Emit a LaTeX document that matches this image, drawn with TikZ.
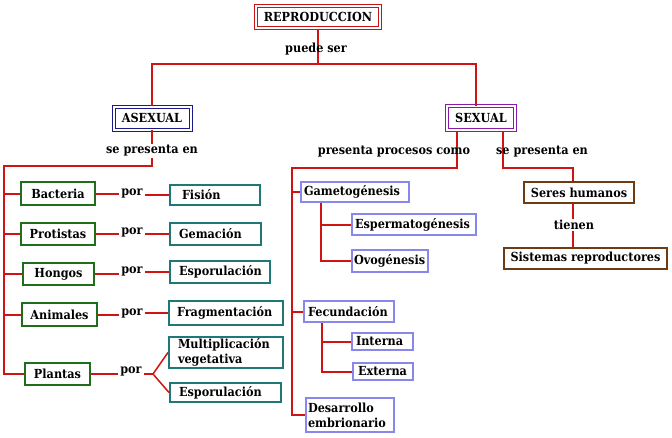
\documentclass[tikz,border=0pt]{standalone}
\usepackage{fontspec}
\setmainfont{DejaVu Serif}[FakeStretch=0.9]
\definecolor{lnred}{RGB}{208,20,20}
\definecolor{repred}{RGB}{200,20,20}
\definecolor{navy}{RGB}{26,26,140}
\definecolor{purp}{RGB}{138,26,170}
\definecolor{grn}{RGB}{30,110,30}
\definecolor{teal}{RGB}{30,120,120}
\definecolor{lav}{RGB}{136,136,236}
\definecolor{brn}{RGB}{110,60,16}
\begin{document}
\begin{tikzpicture}[x=1pt,y=-1pt,
  font=\fontsize{12.5}{15}\selectfont\bfseries,
  link/.style={draw=lnred, line width=2pt},
  dbox/.style={draw=#1, double, double distance=2pt, line width=1pt, inner sep=2pt},
  sbox/.style={draw=#1, line width=2pt, inner ysep=1pt, align=left},
  gbox/.style={sbox=grn, anchor=center},
  tbox/.style={sbox=teal, anchor=west},
  lbox/.style={sbox=lav, anchor=west},
  bbox/.style={sbox=brn, anchor=center},
  lbl/.style={inner sep=1pt},
  wlbl/.style={inner sep=1pt, fill=white},
  pornode/.style={inner xsep=2pt, inner ysep=1pt}]
\useasboundingbox (0,0) rectangle (672,437);

% top level
\node[dbox=repred, minimum width=124pt, minimum height=22pt] (rep) at (318,17) {REPRODUCCION};
\node[dbox=navy, minimum width=77pt, minimum height=23pt] (asex) at (152,118) {ASEXUAL};
\node[dbox=purp, minimum width=68pt, minimum height=24pt] (sex) at (481,118) {SEXUAL};
\coordinate (jtop) at (318,64);
\draw[link] (rep.south) -- (jtop);
\draw[link] (asex.north) |- (jtop) -| ([xshift=-5pt]sex.north);
\node[lbl] (puede) at (316,49) {puede ser};

% asexual branch
\coordinate (ja) at (152,166);
\coordinate (jl) at (4,166);
\node[gbox, minimum width=74pt, minimum height=23pt] (bac) at (58,193.5) {Bacteria};
\node[gbox, minimum width=74pt, minimum height=22pt] (pro) at (58,234) {Protistas};
\node[gbox, minimum width=71pt, minimum height=22pt] (hon) at (58.5,274) {Hongos};
\node[gbox, minimum width=75pt, minimum height=23pt] (ani) at (59.5,314.5) {Animales};
\node[gbox, minimum width=65pt, minimum height=22pt] (pla) at (57.5,374) {Plantas};
\draw[link] (asex.south) -- (ja) -- (jl) |- (pla.west);
\node[wlbl] (sepa) at (152,151) {se presenta en};
\draw[link] (jl |- bac.west) -- (bac.west);
\draw[link] (jl |- pro.west) -- (pro.west);
\draw[link] (jl |- hon.west) -- (hon.west);
\draw[link] (jl |- ani.west) -- (ani.west);

\node[tbox, inner xsep=12pt, text width=66pt, minimum height=20pt] (fis) at (169,194.5) {Fisión};
\node[tbox, inner xsep=9pt, text width=73pt, minimum height=22pt] (gem) at (169,234) {Gemación};
\node[tbox, inner xsep=9pt, text width=82pt, minimum height=22pt] (esp1) at (169,272) {Esporulación};
\node[tbox, inner xsep=8pt, text width=98pt, minimum height=24pt] (fra) at (168,313) {Fragmentación};
\node[tbox, inner xsep=9pt, text width=96pt, minimum height=31pt, inner ysep=0pt] (mul) at (168,352.5) {Multiplicación\\vegetativa};
\node[tbox, inner xsep=9pt, text width=93pt, minimum height=19pt] (esp2) at (169,392.5) {Esporulación};

\node[pornode] (bpor) at (132,193.5) {por};
\node[pornode] (ppor) at (132,232) {por};
\node[pornode] (hpor) at (132,271) {por};
\node[pornode] (apor) at (132,313) {por};
\node[pornode] (lpor) at (131,371) {por};
\draw[link] (bac.east) -- (bac.east -| bpor.west);
\draw[link] (bpor.east |- fis.west) -- (fis.west);
\draw[link] (pro.east) -- (pro.east -| ppor.west);
\draw[link] (ppor.east |- gem.west) -- (gem.west);
\draw[link] (hon.east) -- (hon.east -| hpor.west);
\draw[link] (hpor.east |- esp1.west) -- (esp1.west);
\draw[link] (ani.east) -- (ani.east -| apor.west);
\draw[link] (apor.east |- fra.west) -- (fra.west);
\draw[link] (pla.east) -- (pla.east -| lpor.west);
\coordinate (pj) at (153,374);
\draw[link] (lpor.east |- pj) -- (pj);
\draw[draw=lnred, line width=1.5pt] (mul.west) -- (pj) -- (esp2.west);

% sexual branch
\coordinate (sl) at (457,168);
\coordinate (sr) at (503,168);
\coordinate (gl) at (292,168);
\node[lbox, inner xsep=3pt, text width=102pt, minimum height=20pt] (gam) at (300,192) {Gametogénesis};
\node[lbox, inner xsep=3pt, text width=118pt, minimum height=21pt] (spe) at (351,224.5) {Espermatogénesis};
\node[lbox, inner xsep=2pt, text width=72pt, minimum height=22pt] (ovo) at (351,261) {Ovogénesis};
\node[lbox, inner xsep=4pt, text width=82pt, minimum height=21pt] (fec) at (303,311.5) {Fecundación};
\node[lbox, inner xsep=4pt, text width=53pt, minimum height=17pt] (int) at (351,341.5) {Interna};
\node[lbox, inner xsep=5pt, text width=50pt, minimum height=17pt] (ext) at (352,371.5) {Externa};
\node[lbox, inner xsep=2pt, text width=84pt, minimum height=34pt, inner ysep=0pt] (des) at (305,415) {Desarrollo\\embrionario};
\draw[link] (sex.south -| sl) -- (sl) -- (gl) |- (des.west);
\draw[link] (gl |- gam.west) -- (gam.west);
\draw[link] (gl |- fec.west) -- (fec.west);
\coordinate (gj) at (321,203);
\draw[link] (gj) |- (ovo.west);
\draw[link] (gj |- spe.west) -- (spe.west);
\coordinate (fj) at (322,323);
\draw[link] (fj) |- (ext.west);
\draw[link] (fj |- int.west) -- (int.west);
\node[lbl] (ppc) at (394,152) {presenta procesos como};

\node[bbox, minimum width=110pt, minimum height=21pt] (ser) at (579,192.5) {Seres humanos};
\node[bbox, minimum width=163pt, minimum height=21pt] (sis) at (585.5,258.5) {Sistemas reproductores};
\draw[link] (sex.south -| sr) -- (sr) -| ([xshift=-6pt]ser.north);
\node[lbl] (sepb) at (542,152) {se presenta en};
\coordinate (tj) at (573,225);
\draw[link] (ser.south -| tj) -- (tj |- sis.north);
\node[wlbl] (tie) at (574,225) {tienen};
\end{tikzpicture}
\end{document}
